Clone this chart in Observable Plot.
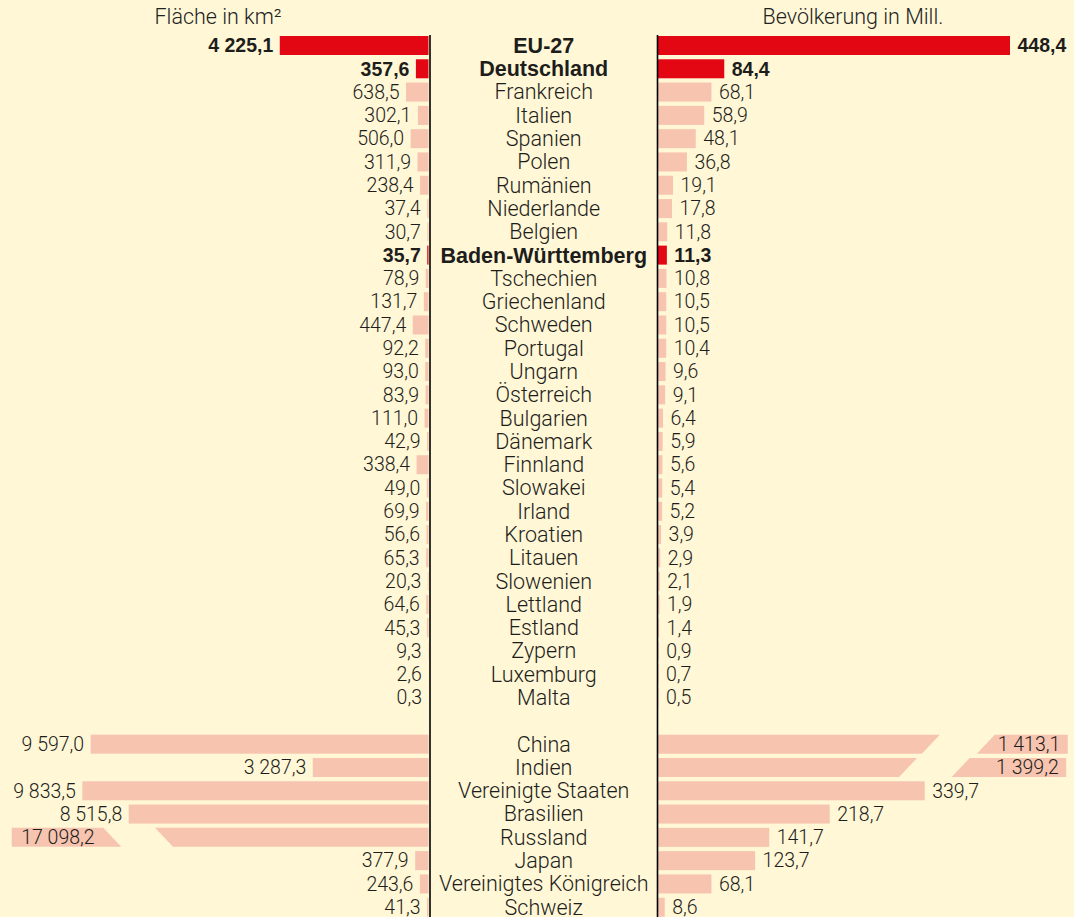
<!DOCTYPE html>
<html>
<head>
<meta charset="utf-8">
<script src="https://cdn.jsdelivr.net/npm/d3@7"></script>
<script src="https://cdn.jsdelivr.net/npm/@observablehq/plot@0.6"></script>
<style>
  html, body { margin: 0; padding: 0; background: #fff7d6; }
  #chart { position: relative; width: 1074px; height: 917px; overflow: hidden;
           font-family: Roboto, "Liberation Sans", Arial, sans-serif; background: #fff7d6; }
  .hdr { position: absolute; top: 6px; width: 300px; text-align: center;
         font-size: 21.5px; line-height: 21px; color: #222; font-weight: 300; }
  .layer { position: absolute; left: 0; top: 33px; }
</style>
</head>
<body>
<div id="chart">
  <div class="hdr" id="hdrLeft"></div>
  <div class="hdr" id="hdrRight"></div>
</div>
<script>
// ---------- data ----------
const headerArea = "Fläche in km²";
const headerPopulation = "Bevölkerung in Mill.";

const euNames = ["EU-27", "Deutschland", "Frankreich", "Italien", "Spanien", "Polen", "Rumänien",
  "Niederlande", "Belgien", "Baden-Württemberg", "Tschechien", "Griechenland", "Schweden",
  "Portugal", "Ungarn", "Österreich", "Bulgarien", "Dänemark", "Finnland", "Slowakei", "Irland",
  "Kroatien", "Litauen", "Slowenien", "Lettland", "Estland", "Zypern", "Luxemburg", "Malta"];
const euArea = [4225.1, 357.6, 638.5, 302.1, 506.0, 311.9, 238.4, 37.4, 30.7, 35.7, 78.9, 131.7,
  447.4, 92.2, 93.0, 83.9, 111.0, 42.9, 338.4, 49.0, 69.9, 56.6, 65.3, 20.3, 64.6, 45.3, 9.3, 2.6, 0.3];
const euPopulation = [448.4, 84.4, 68.1, 58.9, 48.1, 36.8, 19.1, 17.8, 11.8, 11.3, 10.8, 10.5,
  10.5, 10.4, 9.6, 9.1, 6.4, 5.9, 5.6, 5.4, 5.2, 3.9, 2.9, 2.1, 1.9, 1.4, 0.9, 0.7, 0.5];

const worldNames = ["China", "Indien", "Vereinigte Staaten", "Brasilien", "Russland", "Japan",
  "Vereinigtes Königreich", "Schweiz"];
const worldArea = [9597.0, 3287.3, 9833.5, 8515.8, 17098.2, 377.9, 243.6, 41.3];
const worldPopulation = [1413.1, 1399.2, 339.7, 218.7, 141.7, 123.7, 68.1, 8.6];

const highlighted = ["EU-27", "Deutschland", "Baden-Württemberg"];

// bars too long for the scale: drawn shortened with a slanted break (values in scale units)
const brokenArea = [{name: "Russland", cut: 7770, resume: 9240, end: 11840}];
const brokenPopulation = [
  {name: "China", cut: 359, resume: 429, end: 522},
  {name: "Indien", cut: 330, resume: 397, end: 520}
];

// ---------- layout / style ----------
const W = 1074, H = 884;
const rowTop = 12.5, rowStep = 23.29, halfBar = 9.5 / rowStep;
const kArea = 0.0352, kPop = 0.785;      // px per unit
const axisLeft = 428.5, axisRight = 658;
const slantPx = 18;
const RED = "#e30613", SALMON = "#f7c4b0", INK = "#1d1d1b";
const numFont = 19.5, labelFont = 21.5, boldLabelFont = 21.5, boldNumFont = 19.5;
const FONT = "Roboto, Liberation Sans, Arial, sans-serif";
const BOLDFONT = "Liberation Sans, Arial, sans-serif";
const LIGHT = 300;

const loc = d3.formatLocale({decimal: ",", thousands: " ", grouping: [3], currency: ["", ""]});
const fmt = loc.format(",.1f");

// rows
const rows = [];
euNames.forEach((n, k) => rows.push({name: n, i: k, area: euArea[k], pop: euPopulation[k]}));
worldNames.forEach((n, k) => rows.push({name: n, i: euNames.length + 1 + k, area: worldArea[k], pop: worldPopulation[k]}));
rows.forEach(r => r.hl = highlighted.includes(r.name));
const nSlots = euNames.length + 1 + worldNames.length;

const yOpt = {domain: [0, nSlots - 1], range: [rowTop, rowTop + (nSlots - 1) * rowStep], axis: null};

function breakPolys(list, k) {
  const s = slantPx / k;
  const out = [];
  for (const b of list) {
    const r = rows.find(d => d.name === b.name);
    const t = r.i - halfBar, u = r.i + halfBar;
    out.push({z: b.name + "1", y: t, x1: 0, x2: b.cut});
    out.push({z: b.name + "1", y: u, x1: 0, x2: b.cut - s});
    out.push({z: b.name + "2", y: t, x1: b.resume, x2: b.end});
    out.push({z: b.name + "2", y: u, x1: b.resume - s, x2: b.end});
  }
  return out;
}

const brokenAreaNames = brokenArea.map(d => d.name);
const brokenPopNames = brokenPopulation.map(d => d.name);

const common = {width: W, height: H, marginTop: 0, marginBottom: 0, marginLeft: 0, marginRight: 0,
  style: {background: "transparent", fontFamily: FONT, color: INK, overflow: "visible"}};

// ---------- left: area ----------
const areaRows = rows.filter(d => !brokenAreaNames.includes(d.name));
const left = Plot.plot({
  ...common,
  x: {domain: [0, 10000], range: [axisLeft, axisLeft - 10000 * kArea], axis: null},
  y: yOpt,
  marks: [
    Plot.rectX(areaRows, {x1: 0, x2: "area", y1: d => d.i - halfBar, y2: d => d.i + halfBar,
      fill: d => d.hl ? RED : SALMON}),
    Plot.areaX(breakPolys(brokenArea, kArea), {x1: "x1", x2: "x2", y: "y", z: "z", fill: SALMON}),
    Plot.text(areaRows.filter(d => !d.hl), {x: "area", y: "i", text: d => fmt(d.area),
      textAnchor: "end", dx: -7, fontSize: numFont, fontWeight: LIGHT, fill: INK}),
    Plot.text(areaRows.filter(d => d.hl), {x: "area", y: "i", text: d => fmt(d.area),
      textAnchor: "end", dx: -7, fontSize: boldNumFont, fontWeight: "bold", fontFamily: BOLDFONT, fill: INK}),
    Plot.text(brokenArea, {x: "end", y: d => rows.find(r => r.name === d.name).i,
      text: d => fmt(rows.find(r => r.name === d.name).area),
      textAnchor: "start", dx: 9, fontSize: numFont, fontWeight: LIGHT, fill: INK})
  ]
});

// ---------- right: population ----------
const popRows = rows.filter(d => !brokenPopNames.includes(d.name));
const right = Plot.plot({
  ...common,
  x: {domain: [0, 500], range: [axisRight, axisRight + 500 * kPop], axis: null},
  y: yOpt,
  marks: [
    Plot.rectX(popRows, {x1: 0, x2: "pop", y1: d => d.i - halfBar, y2: d => d.i + halfBar,
      fill: d => d.hl ? RED : SALMON}),
    Plot.areaX(breakPolys(brokenPopulation, kPop), {x1: "x1", x2: "x2", y: "y", z: "z", fill: SALMON}),
    Plot.text(popRows.filter(d => !d.hl), {x: "pop", y: "i", text: d => fmt(d.pop),
      textAnchor: "start", dx: 7, fontSize: numFont, fontWeight: LIGHT, fill: INK}),
    Plot.text(popRows.filter(d => d.hl), {x: "pop", y: "i", text: d => fmt(d.pop),
      textAnchor: "start", dx: 7, fontSize: boldNumFont, fontWeight: "bold", fontFamily: BOLDFONT, fill: INK}),
    Plot.text(brokenPopulation, {x: "end", y: d => rows.find(r => r.name === d.name).i,
      text: d => fmt(rows.find(r => r.name === d.name).pop),
      textAnchor: "end", dx: -8, fontSize: numFont, fontWeight: LIGHT, fill: INK})
  ]
});

// ---------- centre: names and dividing rules ----------
const centre = Plot.plot({
  ...common,
  marginLeft: 429.5, marginRight: W - 657,
  x: {domain: [0, 1], axis: null},
  y: yOpt,
  marks: [
    Plot.ruleX([0, 1], {y1: -0.45, y2: nSlots, stroke: "#000", strokeWidth: 1.6}),
    Plot.text(rows.filter(d => !d.hl), {y: "i", text: "name", frameAnchor: "middle",
      fontSize: labelFont, fontWeight: LIGHT, fill: INK}),
    Plot.text(rows.filter(d => d.hl), {y: "i", text: "name", frameAnchor: "middle",
      fontSize: boldLabelFont, fontWeight: "bold", fontFamily: BOLDFONT, fill: INK})
  ]
});

const chart = document.getElementById("chart");
for (const svg of [left, right, centre]) {
  svg.classList.add("layer");
  chart.appendChild(svg);
}
const hl = document.getElementById("hdrLeft");
hl.textContent = headerArea; hl.style.left = (218 - 150) + "px";
const hr = document.getElementById("hdrRight");
hr.textContent = headerPopulation; hr.style.left = (853 - 150) + "px";
</script>
</body>
</html>
